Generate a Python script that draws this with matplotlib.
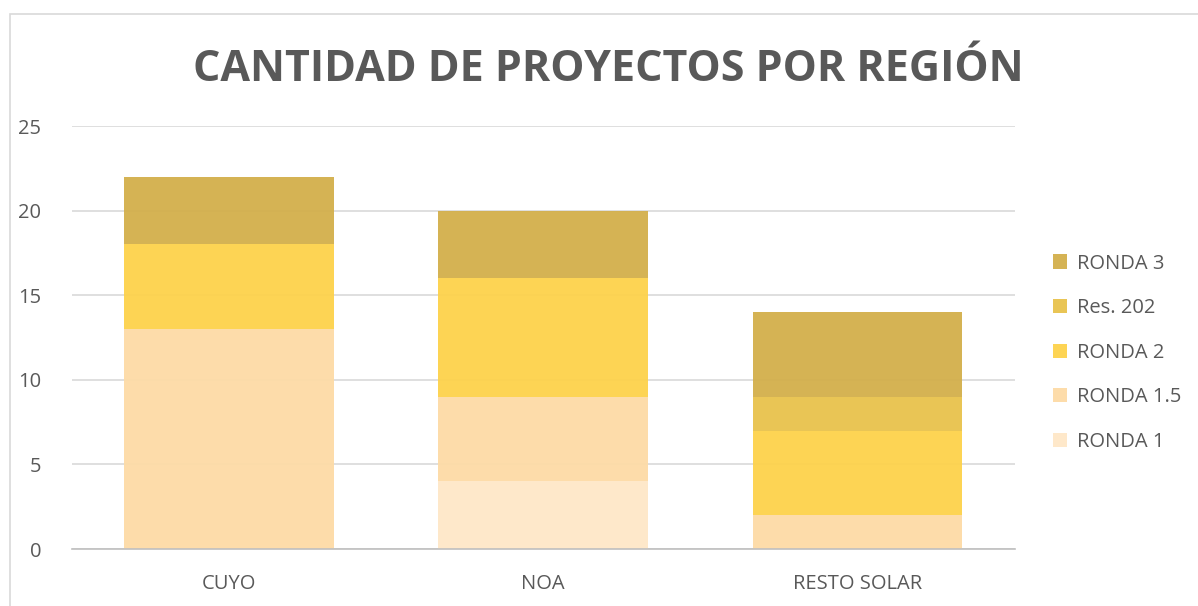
import numpy as np
import matplotlib.pyplot as plt
from matplotlib.patches import Rectangle

# datos
regiones = ['CUYO', 'NOA', 'RESTO SOLAR']
series = ['RONDA 1', 'RONDA 1.5', 'RONDA 2', 'Res. 202', 'RONDA 3']
ronda1 = [0, 4, 0]
ronda15 = [13, 5, 2]
ronda2 = [5, 7, 5]
res202 = [0, 0, 2]
ronda3 = [4, 4, 5]
valores = [ronda1, ronda15, ronda2, res202, ronda3]
colores = ['#FEE7C8', '#FDDBA6', '#FDD24B', '#E8C24C', '#D3AF4B']

plt.rcParams['font.family'] = ['Open Sans', 'DejaVu Sans']

fig = plt.figure(figsize=(11.98, 6.06), dpi=100)
ax = fig.add_axes([0.060, 0.094, 0.787, 0.698])

# marco del area del grafico
fig.patches.append(Rectangle((10 / 1198, -0.1), 1.2, (606 - 14) / 606 + 0.1,
                             transform=fig.transFigure, fill=False,
                             edgecolor='#D9D9D9', linewidth=1.2))

x = np.arange(len(regiones))
base = np.zeros(len(regiones))
for nombre, vals, col in zip(series, valores, colores):
    ax.bar(x, vals, width=0.667, bottom=base, color=col, label=nombre,
           zorder=2, alpha=0.95, linewidth=0)
    base += np.array(vals)

ax.set_xlim(-0.5, 2.5)
ax.set_ylim(0, 25)
ax.set_yticks(range(0, 26, 5))
ax.set_xticks(x)
ax.set_xticklabels(regiones)
ax.yaxis.grid(True, color='#D9D9D9', linewidth=1.2, zorder=0)
ax.set_axisbelow(True)
for s in ['top', 'right', 'left']:
    ax.spines[s].set_visible(False)
ax.spines['bottom'].set_color('#BFBFBF')
ax.spines['bottom'].set_linewidth(1.2)
ax.tick_params(axis='both', length=0, labelsize=14.5, colors='#595959')
ax.tick_params(axis='x', pad=18)
ax.tick_params(axis='y', pad=22)

fig.text(0.508, 0.885, 'CANTIDAD DE PROYECTOS POR REGIÓN', ha='center', va='center',
         fontsize=31, fontweight='bold', color='#595959')

h, l = ax.get_legend_handles_labels()
leg = fig.legend(h[::-1], l[::-1], loc='center left', bbox_to_anchor=(0.864, 0.418),
                 frameon=False, fontsize=14.5, labelcolor='#595959',
                 handlelength=0.7, handleheight=0.7, handletextpad=0.5,
                 labelspacing=1.22)

fig.savefig('out.png', dpi=100)
